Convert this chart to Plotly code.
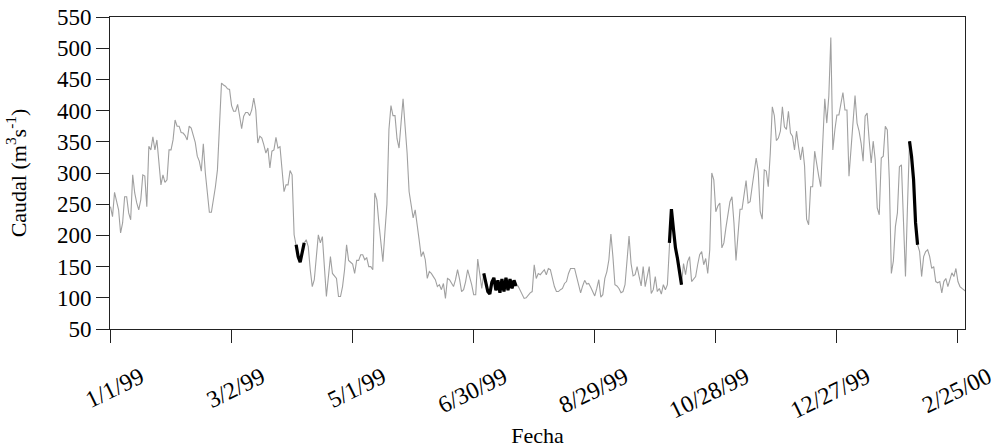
import pandas as pd
import plotly.graph_objects as go

# Daily discharge series starting 1 Jan 1999 (m3/s)
start_date = "1999-01-01"
caudal = [
    # Jan - mid Mar 1999
    246, 230, 269, 252, 241, 204, 220, 262, 262, 236, 225, 297, 268, 252, 241, 257,
    297, 295, 246, 343, 337, 358, 337, 353, 321, 281, 297, 285, 289, 337, 337, 353,
    385, 375, 375, 365, 364, 360, 353, 375, 372, 361, 349, 327, 319, 303, 347, 300,
    273, 237, 237, 257, 278, 305, 369, 444, 441, 439, 435, 434, 408, 399, 399, 410,
    391, 371, 391, 397, 397, 392, 401, 420,
    # mid Mar - late May 1999
    401, 348, 359, 356, 345, 332, 340, 308, 335, 337, 357, 340, 342, 305, 270, 281,
    281, 304, 297, 201, 185, 166, 157, 174, 188, 193, 182, 145, 118, 129, 171, 201,
    188, 198, 150, 102, 134, 166, 139, 134, 131, 102, 102, 118, 145, 185, 160, 157,
    154, 139, 160, 160, 169, 169, 161, 164, 150, 150, 145, 268, 257, 220, 182, 158,
    205, 250, 370, 408, 392, 392, 355, 340,
    # late May - early Aug 1999
    380, 419, 375, 332, 270, 246, 228, 241, 220, 192, 166, 174, 161, 131, 142, 139,
    134, 129, 118, 121, 113, 123, 99, 131, 129, 123, 118, 129, 145, 130, 110, 113,
    126, 145, 134, 121, 105, 105, 162, 134, 115, 139, 124, 110, 106, 125, 132, 112,
    128, 108, 130, 110, 132, 112, 130, 115, 128, 119, 119, 113, 106, 99, 100, 104,
    108, 110, 153, 131, 139, 137, 142, 145,
    # early Aug - mid Oct 1999
    137, 147, 145, 130, 118, 110, 110, 113, 115, 123, 126, 139, 147, 147, 147, 134,
    119, 108, 119, 128, 122, 123, 117, 110, 103, 115, 129, 101, 105, 131, 142, 161,
    202, 166, 121, 119, 115, 108, 110, 121, 155, 199, 155, 135, 137, 150, 134, 119,
    150, 118, 134, 150, 107, 113, 134, 110, 115, 106, 121, 113, 121, 188, 242, 210,
    180, 163, 145, 121, 155, 137, 158, 166,
    # mid Oct - late Dec 1999
    126, 131, 134, 153, 169, 174, 153, 163, 139, 177, 300, 289, 238, 247, 252, 180,
    188, 212, 235, 254, 262, 220, 160, 196, 242, 242, 265, 288, 252, 254, 278, 306,
    324, 303, 238, 226, 305, 303, 278, 332, 406, 392, 352, 356, 367, 406, 374, 370,
    399, 364, 359, 337, 367, 342, 321, 342, 311, 226, 217, 278, 278, 335, 311, 295,
    278, 359, 419, 380, 423, 517,
    # late Dec 1999 - Feb 2000
    337, 369, 393, 393, 412, 429, 401, 401, 295, 337, 385, 424, 380, 367, 348, 319,
    391, 396, 353, 316, 351, 321, 244, 233, 324, 327, 375, 369, 289, 139, 159, 214,
    236, 310, 313, 204, 134, 248, 351, 327, 290, 220, 185, 174, 134, 166, 174, 177,
    166, 147, 150, 126, 124, 126, 108, 126, 131, 118, 131, 140, 134, 147, 126, 118,
    115, 113, 110,
]

# Periods highlighted in black
campaign_periods = [
    ("1999-04-03", "1999-04-07"),
    ("1999-07-05", "1999-07-21"),
    ("1999-10-05", "1999-10-11"),
    ("2000-02-01", "2000-02-05"),
]

tick_dates = ["1999-01-01", "1999-03-02", "1999-05-01", "1999-06-30",
              "1999-08-29", "1999-10-28", "1999-12-27", "2000-02-25"]
tick_labels = ["1/1/99", "3/2/99", "5/1/99", "6/30/99",
               "8/29/99", "10/28/99", "12/27/99", "2/25/00"]
y_ticks = list(range(50, 551, 50))

fechas = pd.date_range(start_date, periods=len(caudal), freq="D")
serie = pd.Series(caudal, index=fechas)

fig = go.Figure()
fig.add_trace(go.Scatter(
    x=serie.index, y=serie.values, mode="lines",
    line=dict(color="#a0a0a0", width=1.1), hoverinfo="x+y",
))
for ini, fin in campaign_periods:
    tramo = serie[ini:fin]
    fig.add_trace(go.Scatter(
        x=tramo.index, y=tramo.values, mode="lines",
        line=dict(color="black", width=3.2), hoverinfo="x+y",
    ))

t0 = pd.Timestamp(start_date)
axis_color = "#222222"
fig.update_layout(
    width=1000, height=448,
    margin=dict(l=110, r=35, t=17, b=119),
    plot_bgcolor="white", paper_bgcolor="white",
    showlegend=False,
    font=dict(family="Liberation Serif", size=23, color="black"),
)
fig.update_xaxes(
    range=[t0 - pd.Timedelta(hours=6), t0 + pd.Timedelta(days=423.5)],
    automargin=False,
    tickmode="array", tickvals=tick_dates, ticktext=tick_labels,
    tickfont=dict(size=24),
    tickangle=-26, ticks="outside", ticklen=13, tickwidth=1, tickcolor=axis_color,
    ticklabelshift=30, ticklabelstandoff=11,
    showline=True, linecolor=axis_color, linewidth=1, mirror=True,
    showgrid=False, zeroline=False,
    title=dict(text="Fecha", standoff=18, font=dict(size=22)),
)
fig.update_yaxes(
    range=[50, 550], automargin=False,
    tickmode="array", tickvals=y_ticks,
    ticks="outside", ticklen=13, tickwidth=1, tickcolor=axis_color,
    showline=True, linecolor=axis_color, linewidth=1, mirror=True,
    showgrid=False, zeroline=False,
    title=dict(text="Caudal (m<sup>3</sup>s<sup>-1</sup>)", standoff=24, font=dict(size=22)),
)

fig.write_html("out.html")
